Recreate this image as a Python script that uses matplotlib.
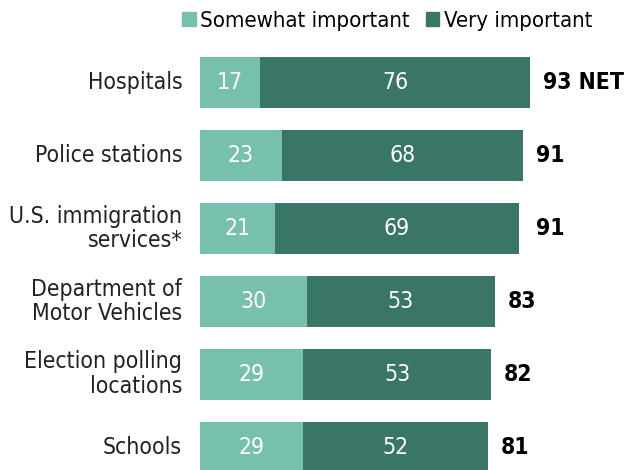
import matplotlib
matplotlib.use('Agg')
import matplotlib.pyplot as plt
from matplotlib.patches import Patch

# survey shares, percent
places = ['Hospitals', 'Police stations', 'U.S. immigration\nservices*',
          'Department of\nMotor Vehicles', 'Election polling\nlocations', 'Schools']
somewhat = [17, 23, 21, 30, 29, 29]
very = [76, 68, 69, 53, 53, 52]
net = [93, 91, 91, 83, 82, 81]
net_labels = ['93 NET', '91', '91', '83', '82', '81']

light = '#78c0ae'
dark = '#397667'

plt.rcParams['font.family'] = ['DejaVu Sans']
plt.rcParams['font.stretch'] = 'condensed'

fig = plt.figure(figsize=(6.31, 4.70), dpi=100)
ax = fig.add_axes([0, 0, 1, 1])

y = list(range(len(places)))
ax.barh(y, somewhat, height=0.70, color=light)
ax.barh(y, very, left=somewhat, height=0.70, color=dark)

fs = 16.5
for i in y:
    ax.text(somewhat[i] / 2, i, str(somewhat[i]), ha='center', va='center',
            color='white', fontsize=fs)
    ax.text(somewhat[i] + very[i] / 2, i, str(very[i]), ha='center', va='center',
            color='white', fontsize=fs)
    ax.text(net[i] + 3.7, i, net_labels[i], ha='left', va='center',
            color='black', fontsize=fs, fontweight='bold')
    ax.text(-5.0, i, places[i], ha='right', va='center', color='#222222',
            fontsize=fs, linespacing=1.1)

handles = [Patch(color=light, label='Somewhat important'),
           Patch(color=dark, label='Very important')]
ax.legend(handles=handles, loc='upper right', bbox_to_anchor=(592 / 631, 0.977), ncol=2,
          frameon=False, fontsize=15.9, handlelength=0.62, handleheight=0.62,
          handletextpad=0.2, columnspacing=0.7, borderaxespad=0, borderpad=0)

ax.set_xlim(-200 / 3.55, 431 / 3.55)
ax.set_ylim(5.31, -1.13)
ax.axis('off')

fig.savefig('out.png', dpi=100)
